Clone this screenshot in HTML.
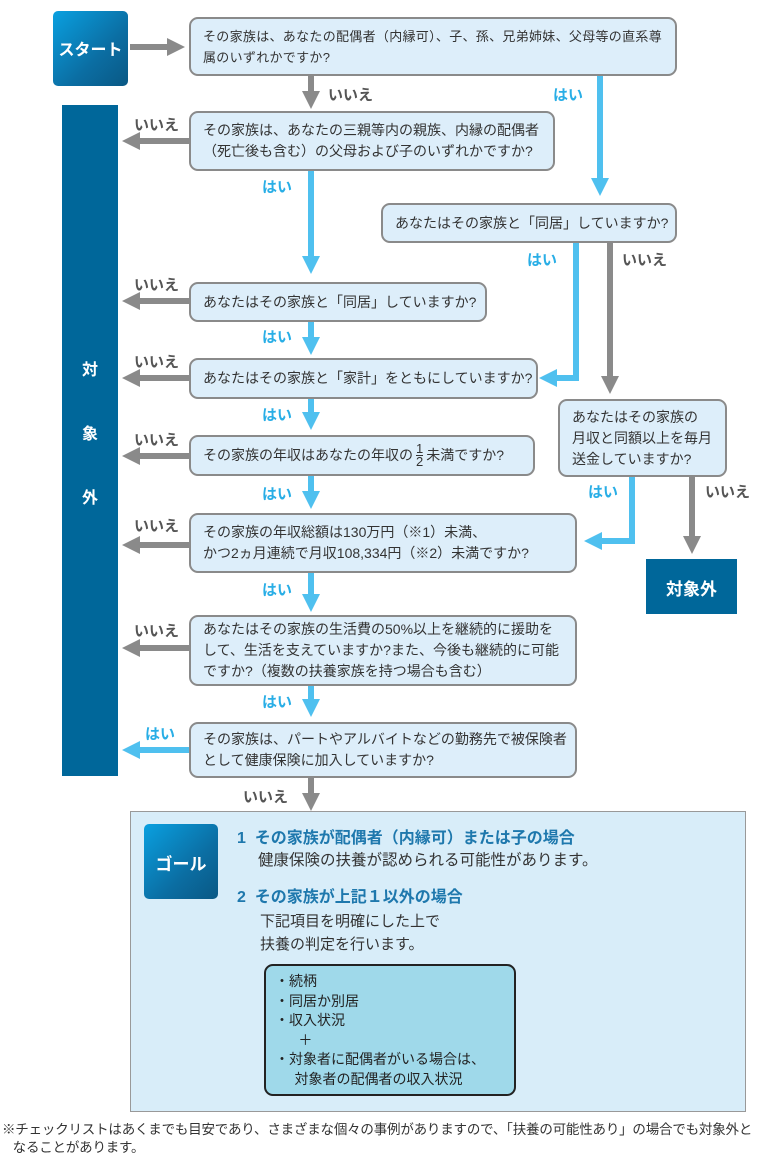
<!DOCTYPE html>
<html><head><meta charset="utf-8"><style>
body{margin:0;width:768px;height:1166px;background:#fff;position:relative;overflow:hidden;font-family:"Liberation Sans","Noto Sans CJK JP",sans-serif;color:#333}
.b{position:absolute;background:#ddeefa;border:2px solid #8a8a8a;border-radius:9px;box-sizing:border-box;font-size:14px;line-height:21px;padding:0 0 0 12px;display:flex;align-items:center;letter-spacing:0;white-space:nowrap}
.l{position:absolute;font-size:15px;font-weight:bold;white-space:nowrap}
.g{color:#555}.c{color:#29aee6}
.t{position:absolute;white-space:nowrap}
svg{position:absolute;left:0;top:0}
</style></head><body>
<svg width="768" height="1166">
<defs>
<marker id="ag" markerWidth="3" markerHeight="3" refX="1.5" refY="1.5" orient="auto" markerUnits="strokeWidth"><path d="M0,0 L3,1.5 L0,3z" fill="#8a8a8a"/></marker>
<marker id="ab" markerWidth="3" markerHeight="3" refX="1.5" refY="1.5" orient="auto" markerUnits="strokeWidth"><path d="M0,0 L3,1.5 L0,3z" fill="#4fc0ef"/></marker>
<linearGradient id="gr" x1="0" y1="0" x2="1" y2="1"><stop offset="0" stop-color="#0aa0e0"/><stop offset="0.6" stop-color="#0b6ea3"/><stop offset="1" stop-color="#0a5884"/></linearGradient>
</defs>
<g fill="none" stroke-width="6">
<path d="M130 47 H176" stroke="#8a8a8a" marker-end="url(#ag)"/>
<path d="M311 76 V100" stroke="#8a8a8a" marker-end="url(#ag)"/>
<path d="M600 76 V187" stroke="#4fc0ef" marker-end="url(#ab)"/>
<path d="M189 141 H131" stroke="#8a8a8a" marker-end="url(#ag)"/>
<path d="M311 171 V265" stroke="#4fc0ef" marker-end="url(#ab)"/>
<path d="M576 243 V378 H548" stroke="#4fc0ef" marker-end="url(#ab)"/>
<path d="M610 243 V385" stroke="#8a8a8a" marker-end="url(#ag)"/>
<path d="M189 301 H131" stroke="#8a8a8a" marker-end="url(#ag)"/>
<path d="M311 322 V346" stroke="#4fc0ef" marker-end="url(#ab)"/>
<path d="M189 378 H131" stroke="#8a8a8a" marker-end="url(#ag)"/>
<path d="M311 399 V421" stroke="#4fc0ef" marker-end="url(#ab)"/>
<path d="M189 456 H131" stroke="#8a8a8a" marker-end="url(#ag)"/>
<path d="M311 476 V500" stroke="#4fc0ef" marker-end="url(#ab)"/>
<path d="M189 545 H131" stroke="#8a8a8a" marker-end="url(#ag)"/>
<path d="M632 477 V541 H593" stroke="#4fc0ef" marker-end="url(#ab)"/>
<path d="M692 477 V545" stroke="#8a8a8a" marker-end="url(#ag)"/>
<path d="M311 573 V603" stroke="#4fc0ef" marker-end="url(#ab)"/>
<path d="M189 648 H131" stroke="#8a8a8a" marker-end="url(#ag)"/>
<path d="M311 686 V708" stroke="#4fc0ef" marker-end="url(#ab)"/>
<path d="M189 750 H131" stroke="#4fc0ef" marker-end="url(#ab)"/>
<path d="M311 778 V802" stroke="#8a8a8a" marker-end="url(#ag)"/>
</g>
<rect x="53" y="11" width="75" height="75" rx="5" fill="url(#gr)"/>
<rect x="62" y="105" width="56" height="671" fill="#00679a"/>
<rect x="646" y="559" width="91" height="55" fill="#00679a"/>
<rect x="130.5" y="811.5" width="615" height="300" fill="#d8edf9" stroke="#999" stroke-width="1"/>
<rect x="144" y="824" width="74" height="75" rx="5" fill="url(#gr)"/>
<rect x="265" y="965" width="250" height="130" rx="8" fill="#9fd9ea" stroke="#222" stroke-width="2"/>
</svg>
<div class="t" style="left:53px;top:36px;width:75px;text-align:center;color:#fff;font-weight:bold;font-size:16px">スタート</div>
<div class="t" style="left:62px;top:356px;width:56px;text-align:center;color:#fff;font-weight:bold;font-size:16px">対</div>
<div class="t" style="left:62px;top:420px;width:56px;text-align:center;color:#fff;font-weight:bold;font-size:16px">象</div>
<div class="t" style="left:62px;top:484px;width:56px;text-align:center;color:#fff;font-weight:bold;font-size:16px">外</div>
<div class="t" style="left:646px;top:575px;width:91px;text-align:center;color:#fff;font-weight:bold;font-size:17px">対象外</div>
<div class="t" style="left:144px;top:850px;width:74px;text-align:center;color:#fff;font-weight:bold;font-size:17px">ゴール</div>

<div class="b" style="left:189px;top:17px;width:488px;height:59px;font-size:13px;letter-spacing:0.3px">その家族は、あなたの配偶者（内縁可）、子、孫、兄弟姉妹、父母等の直系尊<br>属のいずれかですか?</div>
<div class="b" style="left:189px;top:111px;width:366px;height:60px">その家族は、あなたの三親等内の親族、内縁の配偶者<br>（死亡後も含む）の父母および子のいずれかですか?</div>
<div class="b" style="left:381px;top:203px;width:296px;height:40px">あなたはその家族と「同居」していますか?</div>
<div class="b" style="left:189px;top:282px;width:298px;height:40px">あなたはその家族と「同居」していますか?</div>
<div class="b" style="left:189px;top:358px;width:349px;height:41px">あなたはその家族と「家計」をともにしていますか?</div>
<div class="b" style="left:189px;top:435px;width:346px;height:41px">その家族の年収はあなたの年収の <span style="display:inline-block;font-size:13px;line-height:12px;text-align:center;vertical-align:middle;margin:0 3px"><span style="display:block;border-bottom:1px solid #333">1</span>2</span>未満ですか?</div>
<div class="b" style="left:558px;top:399px;width:169px;height:78px;font-size:14px;letter-spacing:0">あなたはその家族の<br>月収と同額以上を毎月<br>送金していますか?</div>
<div class="b" style="left:189px;top:513px;width:388px;height:60px">その家族の年収総額は130万円（※1）未満、<br>かつ2ヵ月連続で月収108,334円（※2）未満ですか?</div>
<div class="b" style="left:189px;top:615px;width:388px;height:71px">あなたはその家族の生活費の50%以上を継続的に援助を<br>して、生活を支えていますか?また、今後も継続的に可能<br>ですか?（複数の扶養家族を持つ場合も含む）</div>
<div class="b" style="left:189px;top:722px;width:388px;height:56px">その家族は、パートやアルバイトなどの勤務先で被保険者<br>として健康保険に加入していますか?</div>

<div class="l g" style="left:328px;top:84px">いいえ</div>
<div class="l c" style="left:553px;top:84px">はい</div>
<div class="l g" style="left:134px;top:114px">いいえ</div>
<div class="l c" style="left:262px;top:176px">はい</div>
<div class="l c" style="left:527px;top:249px">はい</div>
<div class="l g" style="left:622px;top:249px">いいえ</div>
<div class="l g" style="left:134px;top:274px">いいえ</div>
<div class="l c" style="left:262px;top:326px">はい</div>
<div class="l g" style="left:134px;top:351px">いいえ</div>
<div class="l c" style="left:262px;top:404px">はい</div>
<div class="l g" style="left:134px;top:429px">いいえ</div>
<div class="l c" style="left:262px;top:483px">はい</div>
<div class="l c" style="left:588px;top:481px">はい</div>
<div class="l g" style="left:705px;top:481px">いいえ</div>
<div class="l g" style="left:134px;top:515px">いいえ</div>
<div class="l c" style="left:262px;top:579px">はい</div>
<div class="l g" style="left:134px;top:620px">いいえ</div>
<div class="l c" style="left:262px;top:691px">はい</div>
<div class="l c" style="left:145px;top:723px">はい</div>
<div class="l g" style="left:243px;top:786px">いいえ</div>

<div class="t" style="left:237px;top:824px;font-size:16px;font-weight:bold;color:#1e78ad">1&nbsp;&nbsp;その家族が配偶者（内縁可）または子の場合</div>
<div class="t" style="left:258px;top:848px;font-size:15.5px;color:#333">健康保険の扶養が認められる可能性があります。</div>
<div class="t" style="left:237px;top:883px;font-size:16px;font-weight:bold;color:#1e78ad">2&nbsp;&nbsp;その家族が上記１以外の場合</div>
<div class="t" style="left:260px;top:910px;font-size:15px;line-height:23px;color:#333">下記項目を明確にした上で<br>扶養の判定を行います。</div>
<div class="t" style="left:275px;top:972px;font-size:14px;line-height:19.5px;color:#222">・続柄<br>・同居か別居<br>・収入状況<br>&nbsp;&nbsp;&nbsp;&nbsp;&nbsp;&nbsp;＋<br>・対象者に配偶者がいる場合は、<br>&nbsp;&nbsp;&nbsp;&nbsp;&nbsp;対象者の配偶者の収入状況</div>

<div class="t" style="left:2px;top:1121px;font-size:13.5px;line-height:18px;letter-spacing:-0.2px;color:#333">※チェックリストはあくまでも目安であり、さまざまな個々の事例がありますので、「扶養の可能性あり」の場合でも対象外と<br>&nbsp;&nbsp;&nbsp;なることがあります。</div>
</body></html>
